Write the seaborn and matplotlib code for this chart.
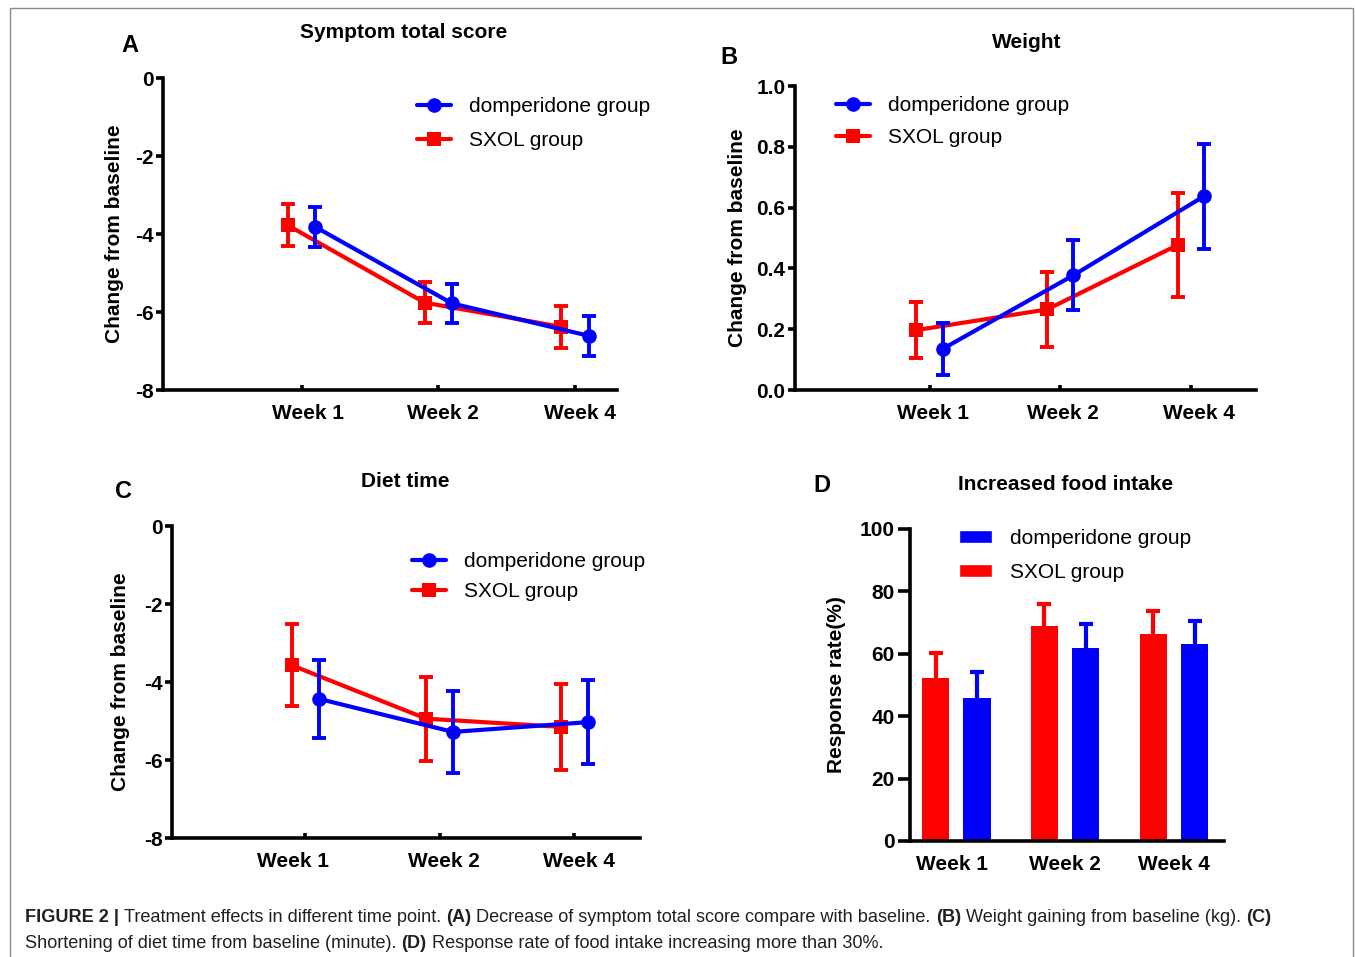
import numpy as np
import pandas as pd
import matplotlib
matplotlib.use('Agg')
import matplotlib.pyplot as plt
import seaborn as sns
from matplotlib.lines import Line2D
from matplotlib.patches import Patch, Rectangle
from matplotlib.transforms import ScaledTranslation

sns.set_style('ticks', rc={'axes.edgecolor': 'black', 'text.color': 'black',
                           'xtick.color': 'black', 'ytick.color': 'black',
                           'axes.labelcolor': 'black'})
plt.rcParams['font.family'] = ['Liberation Sans', 'DejaVu Sans']

# ---------------- data ----------------
weeks = ['Week 1', 'Week 2', 'Week 4']
groups = ['domperidone group', 'SXOL group']

# A: symptom total score (change from baseline)
a_dom_mean = [-3.82, -5.78, -6.61]
a_dom_sem = [0.52, 0.51, 0.52]
a_sxol_mean = [-3.78, -5.76, -6.38]
a_sxol_sem = [0.54, 0.53, 0.54]

# B: weight (kg)
b_dom_mean = [0.135, 0.377, 0.637]
b_dom_sem = [0.085, 0.115, 0.172]
b_sxol_mean = [0.197, 0.265, 0.477]
b_sxol_sem = [0.092, 0.122, 0.171]

# C: diet time (minute)
c_dom_mean = [-4.43, -5.28, -5.03]
c_dom_sem = [1.00, 1.06, 1.07]
c_sxol_mean = [-3.57, -4.94, -5.15]
c_sxol_sem = [1.05, 1.08, 1.11]

# D: response rate (%)
d_dom_rate = [45.9, 61.8, 63.0]
d_dom_err = [8.2, 7.7, 7.6]
d_sxol_rate = [52.1, 68.9, 66.3]
d_sxol_err = [8.3, 7.2, 7.5]

# ---------------- style ----------------
BLUE = '#0000FF'
RED = '#FF0000'
W, H = 1355, 957
fig = plt.figure(figsize=(W / 100, H / 100), dpi=100)
fig.patch.set_facecolor('white')


def px_axes(x0, y0, x1, y1):
    return fig.add_axes([x0 / W, 1 - y1 / H, (x1 - x0) / W, (y1 - y0) / H])


def style(ax, x0, x1, ylim, yticks, ylabels, xlim, ylab, ylab_x, xlab_dx, xticks_on=True, ylen=5):
    ax.set_facecolor('white')
    sns.despine(ax=ax)
    for s in ('left', 'bottom'):
        ax.spines[s].set_linewidth(2.6)
        ax.spines[s].set_color('black')
    ax.set_xlim(*xlim)
    ax.set_ylim(*ylim)
    ax.set_yticks(yticks)
    ax.set_yticklabels(ylabels, fontsize=15, fontweight='bold')
    ax.set_xticks([0, 1, 2])
    ax.set_xticklabels(weeks, fontsize=15, fontweight='bold')
    ax.tick_params(axis='y', direction='out', length=ylen, width=2.6, pad=2)
    if xticks_on:
        ax.tick_params(axis='x', direction='in', length=3.5, width=2.6, pad=10)
    else:
        ax.tick_params(axis='x', length=0, pad=10)
    for lbl, dx in zip(ax.get_xticklabels(), xlab_dx):
        lbl.set_transform(lbl.get_transform() + ScaledTranslation(dx / 100, 0, fig.dpi_scale_trans))
    ax.set_xlabel('')
    ax.set_ylabel(ylab, fontsize=15, fontweight='bold')
    ax.yaxis.label.set_va('center')
    ax.yaxis.set_label_coords((ylab_x - x0) / (x1 - x0), 0.5)


def line_panel(ax, dom_m, dom_s, sx_m, sx_s):
    pos = np.arange(len(weeks))
    for m, s, col, mk, ms, off, z in [(sx_m, sx_s, RED, 's', 9.5, -0.1, 2),
                                       (dom_m, dom_s, BLUE, 'o', 10.5, 0.1, 3)]:
        df = pd.DataFrame({'pos': pos + off, 'value': m})
        ax.errorbar(df['pos'], df['value'], yerr=s, fmt='none', ecolor=col,
                    elinewidth=2.8, capsize=4.8, capthick=2.8, zorder=z)
        sns.lineplot(data=df, x='pos', y='value', ax=ax, color=col, marker=mk,
                     markersize=ms, markeredgewidth=0, linewidth=3, zorder=z + 0.5)


def line_legend(ax, x, y, spacing):
    handles = [Line2D([0], [0], color=BLUE, lw=3, marker='o', ms=10.5, mew=0),
               Line2D([0], [0], color=RED, lw=3, marker='s', ms=9.5, mew=0)]
    ax.legend(handles, groups, loc='upper left', bbox_to_anchor=(x / W, 1 - y / H),
              bbox_transform=fig.transFigure, frameon=False, fontsize=15,
              handlelength=1.63, handletextpad=0.87, labelspacing=spacing,
              borderpad=0, borderaxespad=0)


# ---------------- panel A ----------------
axA = px_axes(163, 78, 617, 390)
line_panel(axA, a_dom_mean, a_dom_sem, a_sxol_mean, a_sxol_sem)
style(axA, 163, 617, (-8, 0), [0, -2, -4, -6, -8], ['0', '-2', '-4', '-6', '-8'],
      (-1.015, 2.307), 'Change from baseline', 115, [6, 5, 5])
line_legend(axA, 417, 97, 0.72)

# ---------------- panel B ----------------
axB = px_axes(795, 86, 1256, 390)
line_panel(axB, b_dom_mean, b_dom_sem, b_sxol_mean, b_sxol_sem)
style(axB, 795, 1256, (0, 1.0), [0, 0.2, 0.4, 0.6, 0.8, 1.0],
      ['0.0', '0.2', '0.4', '0.6', '0.8', '1.0'],
      (-1.03, 2.5), 'Change from baseline', 737, [3, 3, 8])
line_legend(axB, 836, 96, 0.62)

# ---------------- panel C ----------------
axC = px_axes(172, 526, 640, 838)
line_panel(axC, c_dom_mean, c_dom_sem, c_sxol_mean, c_sxol_sem)
style(axC, 172, 640, (-8, 0), [0, -2, -4, -6, -8], ['0', '-2', '-4', '-6', '-8'],
      (-0.99, 2.49), 'Change from baseline', 120, [-12, 4, 5])
line_legend(axC, 412, 552, 0.53)

# ---------------- panel D ----------------
axD = px_axes(910, 529, 1224, 841)
dfD = pd.DataFrame({
    'week': weeks * 2,
    'group': ['SXOL group'] * 3 + ['domperidone group'] * 3,
    'rate': d_sxol_rate + d_dom_rate,
})
sns.barplot(data=dfD, x='week', y='rate', hue='group',
            hue_order=['SXOL group', 'domperidone group'],
            palette={'SXOL group': RED, 'domperidone group': BLUE},
            width=0.76, gap=0.34, errorbar=None, legend=False, ax=axD,
            linewidth=0, saturation=1)
posD = np.arange(3)
for rates, errs, col, off in [(d_sxol_rate, d_sxol_err, RED, -0.19),
                              (d_dom_rate, d_dom_err, BLUE, 0.19)]:
    eb = axD.errorbar(posD + off, rates, yerr=[np.zeros(3), errs], fmt='none',
                      ecolor=col, elinewidth=3, capsize=5, capthick=3, zorder=3)
    eb[1][0].set_visible(False)
style(axD, 910, 1224, (0, 100), [0, 20, 40, 60, 80, 100],
      ['0', '20', '40', '60', '80', '100'],
      (-0.426, 2.46), 'Response rate(%)', 836, [-4, 0, 0], xticks_on=False, ylen=9)
axD.legend([Patch(facecolor=BLUE), Patch(facecolor=RED)], groups,
           loc='upper left', bbox_to_anchor=(959 / W, 1 - 529 / H),
           bbox_transform=fig.transFigure, frameon=False, fontsize=15,
           handlelength=1.6, handleheight=0.6, handletextpad=0.87,
           labelspacing=0.72, borderpad=0, borderaxespad=0)

# ---------------- titles & letters ----------------
for txt, x, y in [('Symptom total score', 404, 33), ('Weight', 1027, 42),
                  ('Diet time', 405, 481), ('Increased food intake', 1066, 484)]:
    fig.text(x / W, 1 - y / H, txt, fontsize=15, fontweight='bold', ha='center', va='center')
for txt, x, y in [('A', 130, 45), ('B', 729, 58), ('C', 124, 492), ('D', 822, 485)]:
    fig.text(x / W, 1 - y / H, txt, fontsize=17, fontweight='bold', ha='center', va='center')

# ---------------- caption ----------------
renderer = fig.canvas.get_renderer()
CAP = '#231f20'


def rich_line(x_px, y_px, segs, size=13.05):
    x = x_px
    sp = 0.278 * size * 100 / 72
    for txt, bold in segs:
        t = fig.text(x / W, 1 - y_px / H, txt, fontsize=size,
                     fontweight='bold' if bold else 'normal',
                     ha='left', va='center', color=CAP)
        bb = t.get_window_extent(renderer)
        x += bb.width + sp


rich_line(25, 918, [('FIGURE 2 |', True), ('Treatment effects in different time point.', False),
                    ('(A)', True), ('Decrease of symptom total score compare with baseline.', False),
                    ('(B)', True), ('Weight gaining from baseline (kg).', False), ('(C)', True)])
rich_line(25, 943, [('Shortening of diet time from baseline (minute).', False), ('(D)', True),
                    ('Response rate of food intake increasing more than 30%.', False)])

# frame border
fig.patches.append(Rectangle((10 / W, -0.01), (1353 - 10) / W, 1 - 8 / H + 0.01,
                             transform=fig.transFigure, fill=False,
                             edgecolor='#8a8a8a', linewidth=1.0))

fig.savefig('out.png', dpi=100, facecolor='white')
